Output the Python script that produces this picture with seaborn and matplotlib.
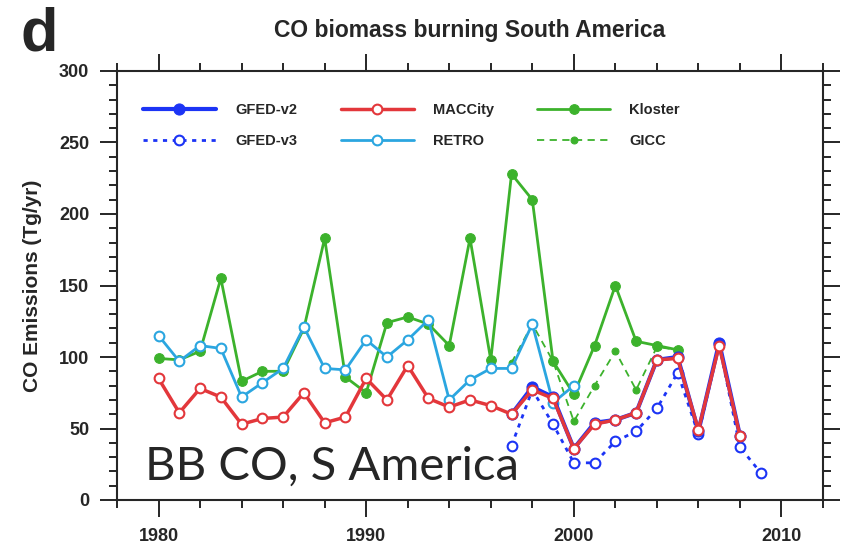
import numpy as np
import pandas as pd
import matplotlib
matplotlib.use("Agg")
import matplotlib.pyplot as plt
from matplotlib.ticker import MultipleLocator
import seaborn as sns

# data (Tg/yr)
years_gfed2 = list(range(1997, 2009))
gfed_v2 = [60, 79, 72, 36, 54, 56, 61, 98, 100, 48, 110, 45]

years_gfed3 = list(range(1997, 2010))
gfed_v3 = [38, 77, 53, 26, 26, 41, 48, 64, 89, 46, 109, 37, 19]

years_macc = list(range(1980, 2009))
maccity = [85, 61, 78, 72, 53, 57, 58, 75, 54, 58, 85, 70, 94, 71, 65,
           70, 66, 60, 77, 71, 36, 53, 56, 61, 98, 99, 49, 108, 45]

years_retro = list(range(1980, 2001))
retro = [115, 97, 108, 106, 72, 82, 92, 121, 92, 91, 112, 100, 112, 126,
         70, 84, 92, 92, 123, 68, 80]

years_kloster = list(range(1980, 2006))
kloster = [99, 98, 104, 155, 83, 90, 90, 120, 183, 86, 75, 124, 128, 123,
           108, 183, 98, 228, 210, 97, 74, 108, 150, 111, 108, 105]

years_gicc = list(range(1997, 2006))
gicc = [96, 123, 97, 55, 80, 104, 77, 107, 105]

blue = "#1c34f5"
red = "#e3373b"
cyan = "#2ba6e0"
green = "#3cb22c"

sns.set_style("ticks")
plt.rcParams["font.family"] = ["Liberation Sans", "DejaVu Sans"]
plt.rcParams["font.weight"] = "bold"

fig = plt.figure(figsize=(8.46, 5.48), dpi=100)
ax = fig.add_axes([117 / 846, 48 / 548, 706 / 846, 429 / 548])

sns.lineplot(x=years_kloster, y=kloster, ax=ax, color=green, lw=2,
             marker="o", ms=7, mec=green, mfc=green, label="Kloster")
sns.lineplot(x=years_gicc, y=gicc, ax=ax, color=green, lw=1.3, ls=(0, (4, 3)),
             marker="o", ms=5, mec=green, mfc=green, label="GICC")
sns.lineplot(x=years_retro, y=retro, ax=ax, color=cyan, lw=2,
             marker="o", ms=7, mec=cyan, mfc="white", mew=1.5, label="RETRO")
sns.lineplot(x=years_gfed3, y=gfed_v3, ax=ax, color=blue, lw=2, ls=(0, (1.5, 2)),
             marker="o", ms=7, mec=blue, mfc="white", mew=1.5, label="GFED-v3")
sns.lineplot(x=years_gfed2, y=gfed_v2, ax=ax, color=blue, lw=3,
             marker="o", ms=8, mec=blue, mfc=blue, label="GFED-v2")
sns.lineplot(x=years_macc, y=maccity, ax=ax, color=red, lw=2.5,
             marker="o", ms=7, mec=red, mfc="white", mew=1.5, label="MACCity")

ax.set_xlim(1978, 2012)
ax.set_ylim(0, 300)
ax.set_xticks([1980, 1990, 2000, 2010])
ax.xaxis.set_minor_locator(MultipleLocator(2))
ax.yaxis.set_major_locator(MultipleLocator(50))
ax.yaxis.set_minor_locator(MultipleLocator(10))
ax.tick_params(which="both", direction="out", top=True, right=True,
               width=1.4, labelsize=13)
ax.tick_params(which="major", length=12, pad=8)
ax.tick_params(which="minor", length=6)
for s in ax.spines.values():
    s.set_linewidth(1.5)
    s.set_visible(True)

ax.set_ylabel("CO Emissions (Tg/yr)", fontsize=15, fontweight="bold", labelpad=12)
ax.set_xlabel("")

handles, labels = ax.get_legend_handles_labels()
order = ["GFED-v2", "GFED-v3", "MACCity", "RETRO", "Kloster", "GICC"]
hmap = dict(zip(labels, handles))
ax.legend([hmap[k] for k in order], order, ncol=3, loc="upper left",
          bbox_to_anchor=(26 / 706, 0.925), frameon=False, borderpad=0,
          borderaxespad=0, handlelength=5.0, handletextpad=1.3,
          columnspacing=3.0, labelspacing=1.15, numpoints=1,
          prop={"size": 10.5, "weight": "bold"})

fig.text(470 / 846, 1 - 30 / 548, "CO biomass burning South America",
         ha="center", va="center", fontsize=16.5, fontweight="bold")
fig.text(20 / 846, 1 - 50 / 548, "d", ha="left", va="baseline",
         fontsize=44, fontweight="bold")
fig.text(145 / 846, 1 - 480 / 548, "BB CO, S America", ha="left",
         va="baseline", fontsize=34, fontweight="normal", family=["Lato", "DejaVu Sans"])

fig.savefig("out.png", dpi=100, facecolor="white")
